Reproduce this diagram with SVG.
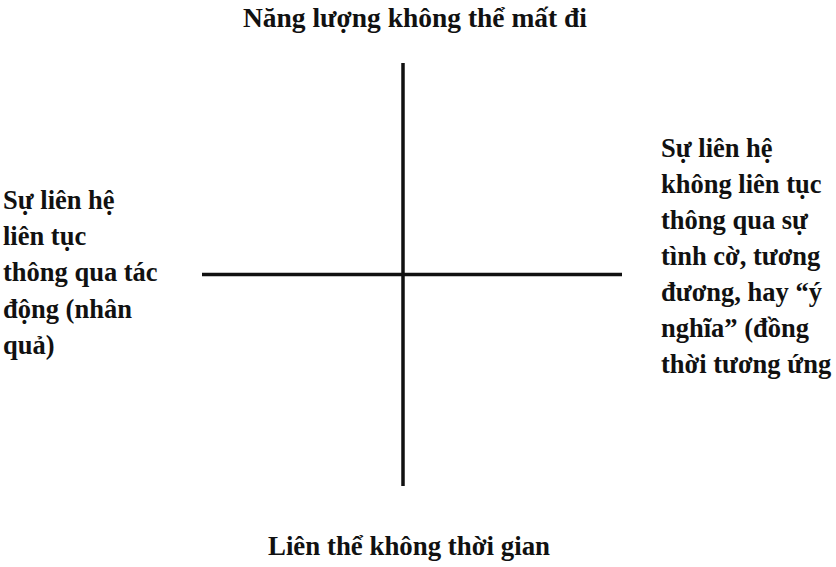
<svg xmlns="http://www.w3.org/2000/svg" width="836" height="567" viewBox="0 0 836 567">
<style>
text{font-family:"Liberation Serif","DejaVu Serif",serif;font-weight:bold;font-size:26.5px;fill:#111}
.ax{stroke:#111;stroke-width:3.5;fill:none}
</style>
<rect width="836" height="567" fill="#fff"/>
<g id="connectors">
<line class="ax" x1="403" y1="63" x2="403" y2="486"/>
<line class="ax" x1="202" y1="274.5" x2="622" y2="274.5"/>
</g>
<g id="top">
<text x="243" y="27" textLength="344" lengthAdjust="spacingAndGlyphs">Năng lượng không thể mất đi</text>
</g>
<g id="bottom">
<text x="268" y="555" textLength="282" lengthAdjust="spacingAndGlyphs">Liên thể không thời gian</text>
</g>
<g id="left">
<text x="3" y="209">Sự liên hệ</text>
<text x="3" y="245">liên tục</text>
<text x="3" y="281">thông qua tác</text>
<text x="3" y="318">động (nhân</text>
<text x="3" y="354">quả)</text>
</g>
<g id="right">
<text x="661" y="157">Sự liên hệ</text>
<text x="661" y="193">không liên tục</text>
<text x="661" y="229">thông qua sự</text>
<text x="661" y="265">tình cờ, tương</text>
<text x="661" y="301">đương, hay “ý</text>
<text x="661" y="337">nghĩa” (đồng</text>
<text x="661" y="373">thời tương ứng</text>
</g>
</svg>
